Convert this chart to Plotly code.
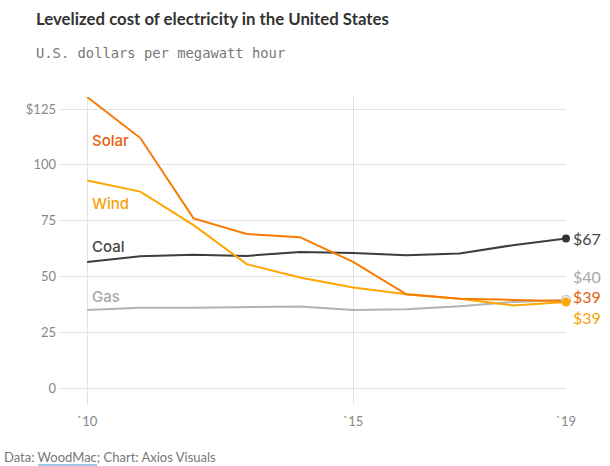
import plotly.graph_objects as go

years = [2010, 2011, 2012, 2013, 2014, 2015, 2016, 2017, 2018, 2019]
solar = [130.4, 112, 76, 69, 67.6, 56.5, 42, 40, 39.5, 39]
wind = [93, 88, 73, 55.5, 49.5, 45, 42, 40, 37, 38.5]
coal = [56.5, 59, 59.7, 59.2, 61, 60.5, 59.5, 60.3, 64, 67]
gas = [35, 36, 36, 36.3, 36.5, 35, 35.3, 36.7, 38.5, 39.5]

series_names = ["Gas", "Coal", "Wind", "Solar"]
series_values = [gas, coal, wind, solar]
line_colors = ["#b3b3b3", "#3d3d3d", "#ffa600", "#f97a00"]
text_colors = ["#a8a8a8", "#444444", "#f9a10d", "#e8600e"]
label_y = [40.8, 63.6, 82.9, 110.7]
end_labels = ["$40", "$67", "$39", "$39"]
end_label_y = [50.2, 67.2, 31.4, 40.8]

x_ticks = [2010, 2015, 2019]
x_tick_text = ["`10", "`15", "`19"]
y_ticks = [0, 25, 50, 75, 100, 125]
y_tick_text = ["0", "25", "50", "75", "100", "$125"]

fig = go.Figure()
for name, vals, lc in zip(series_names, series_values, line_colors):
    fig.add_trace(go.Scatter(x=years, y=vals, mode="lines", name=name,
                             line=dict(color=lc, width=2), hoverinfo="skip",
                             cliponaxis=False))

# end markers
fig.add_trace(go.Scatter(x=[years[-1]], y=[gas[-1]], mode="markers",
                         marker=dict(size=9, color="white", line=dict(color="#c8c8c8", width=1.5)),
                         cliponaxis=False, hoverinfo="skip"))
fig.add_trace(go.Scatter(x=[years[-1]], y=[coal[-1]], mode="markers",
                         marker=dict(size=8, color="#333333"), cliponaxis=False, hoverinfo="skip"))
fig.add_trace(go.Scatter(x=[years[-1]], y=[wind[-1]], mode="markers",
                         marker=dict(size=9, color="#ffa600"), cliponaxis=False, hoverinfo="skip"))

font_family = "Lato, Inter, sans-serif"
for name, ly, tc in zip(series_names, label_y, text_colors):
    fig.add_annotation(x=2010, y=ly, text=name, showarrow=False, xanchor="left",
                       xshift=3, yanchor="middle",
                       font=dict(size=15, color=tc, family="Inter, sans-serif", weight=500))
for lab, ly, tc in zip(end_labels, end_label_y, text_colors):
    fig.add_annotation(x=2019, y=ly, text=lab, showarrow=False, xanchor="left",
                       xshift=5, yanchor="middle",
                       font=dict(size=16, color=tc, family=font_family))

fig.add_annotation(xref="paper", yref="paper", x=-0.052, y=1, xanchor="left", yanchor="middle",
                   yshift=97 - 18, text="<b>Levelized cost of electricity in the United States</b>",
                   showarrow=False, font=dict(size=16.8, color="#333333", family="Lato, sans-serif"))
fig.add_annotation(xref="paper", yref="paper", x=-0.052, y=1, xanchor="left", yanchor="middle",
                   yshift=97 - 53, text="U.S. dollars per megawatt hour",
                   showarrow=False, font=dict(size=13.8, color="#777777", family="DejaVu Sans Mono, monospace"))
fig.add_annotation(xref="paper", yref="paper", x=-0.115, y=0, xanchor="left", yanchor="middle",
                   yshift=405 - 457, text="Data: WoodMac; Chart: Axios Visuals",
                   showarrow=False, font=dict(size=13, color="#777777", family=font_family))
# underline for the source link
ul_y = (405 - 465) / 308
fig.add_shape(type="line", xref="paper", yref="paper", x0=(38 - 60) / 506, x1=(97 - 60) / 506,
              y0=ul_y, y1=ul_y, line=dict(color="#3b8fd1", width=1))

fig.update_layout(
    width=610, height=466,
    margin=dict(l=60, r=44, t=97, b=61),
    paper_bgcolor="white", plot_bgcolor="white",
    showlegend=False,
    xaxis=dict(range=[2009.49, 2019], tickvals=x_ticks, ticktext=x_tick_text,
               showgrid=True, gridcolor="#e3e3e3", gridwidth=1, zeroline=False,
               showline=False, ticks="", ticklabelstandoff=7,
               tickfont=dict(size=13, color="#888888", family=font_family),
               fixedrange=True),
    yaxis=dict(range=[-7.6, 130.4], tickvals=y_ticks, ticktext=y_tick_text,
               showgrid=True, gridcolor="#e3e3e3", gridwidth=1, zeroline=False,
               showline=False, ticks="", ticklabelstandoff=3,
               tickfont=dict(size=13, color="#888888", family=font_family), fixedrange=True),
)

fig.write_html("out.html")
